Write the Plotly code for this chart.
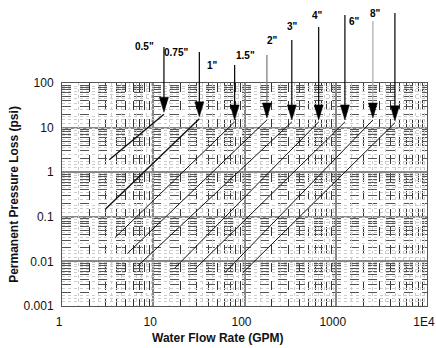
import math
import plotly.graph_objects as go

# ---- data ----
sizes = ['0.5"', '0.75"', '1"', '1.5"', '2"', '3"', '4"', '6"', '8"']
flow_start = [3.3, 3.0, 3.8, 5.2, 6.8, 17, 29, 61, 96]          # GPM
flow_end = [13.1, 32, 78, 176, 330, 650, 1260, 2550, 4450]       # GPM
loss_start = [1.9, 0.15, 0.034, 0.015, 0.008, 0.0069, 0.0069, 0.0056, 0.0056]  # psi
loss_end = [20, 15.7, 13.4, 14.8, 13.4, 13.4, 13.4, 14.8, 12.8]  # psi

x_ticks = [1, 10, 100, 1000, 10000]
x_tick_text = ['1', '10', '100', '1000', '1E4']
y_ticks = [0.001, 0.01, 0.1, 1, 10, 100]
y_tick_text = ['0.001', '0.01', '0.1', '1', '10', '100']

# ---- label styling (pixels) ----
label_rise = [36, 31, 18, 28, 43, 56, 68, 62, 70]     # height of leader above plot top
leader_len = [7, 8, 14, 9, 11, 18, 19, 10, 11]
leader_color = ['black', 'black', 'black', '#777', 'black', 'black', 'black', '#aaa', 'black']
line_width = [1.4, 1.4, 1, 1, 1, 1, 1, 1, 1]

W, H = 436, 348
ML, MR, MT, MB = 62, 9, 83, 42
PH = H - MT - MB

fig = go.Figure()
for i, s in enumerate(sizes):
    fig.add_trace(go.Scatter(
        x=[flow_start[i], flow_end[i]], y=[loss_start[i], loss_end[i]],
        mode='lines', line=dict(color='#111', width=line_width[i]),
        name=s, showlegend=False, hoverinfo='skip'))

# invisible trace for the overlay grid axes
fig.add_trace(go.Scatter(x=[1], y=[1], xaxis='x2', yaxis='y2', mode='markers',
                         marker=dict(opacity=0), showlegend=False, hoverinfo='skip'))

half_steps = []
for d in range(0, 4):
    for k in [1.5, 2.5, 3.5, 4.5, 5.5, 6.5, 7.5, 8.5, 9.5]:
        half_steps.append(k * 10 ** d)
half_steps_y = []
for d in range(-3, 2):
    for k in [1.25, 1.5, 1.75, 2.5, 3.5, 4.5, 5.5, 6.5, 7.5, 8.5, 9.5]:
        half_steps_y.append(k * 10 ** d)

shapes = []
annotations = []
for i, s in enumerate(sizes):
    corner = 1 + label_rise[i] / PH
    col = leader_color[i]
    # vertical leader above the plot
    shapes.append(dict(type='line', xref='x', yref='paper', xsizemode='pixel',
                       xanchor=flow_end[i], x0=0, x1=0, y0=corner, y1=1,
                       line=dict(color=col, width=1.2)))
    # horizontal leader
    shapes.append(dict(type='line', xref='x', yref='paper', xsizemode='pixel',
                       xanchor=flow_end[i], x0=-leader_len[i], x1=0, y0=corner, y1=corner,
                       line=dict(color=col, width=1.2)))
    # vertical leader inside the plot down to arrowhead
    shapes.append(dict(type='line', xref='x', yref='y', xsizemode='pixel', ysizemode='pixel',
                       xanchor=flow_end[i], yanchor=loss_end[i], x0=0, x1=0, y0=12, y1=60,
                       line=dict(color=col, width=1.2)))
    # arrowhead
    shapes.append(dict(type='path', xref='x', yref='y', xsizemode='pixel', ysizemode='pixel',
                       xanchor=flow_end[i], yanchor=loss_end[i],
                       path='M-4.5,17 L4.5,17 L0,2 Z',
                       fillcolor='black', line=dict(color='black', width=0.5)))
    annotations.append(dict(text='<b>' + s + '</b>', xref='x', yref='paper',
                            x=math.log10(flow_end[i]), y=corner, xanchor='right',
                            yanchor='middle', xshift=-(leader_len[i] + 1), showarrow=False,
                            font=dict(family='Liberation Sans, Arial', size=10, color='black')))

annotations.append(dict(text='<b>Water Flow Rate (GPM)</b>', xref='paper', yref='paper',
                        x=(218 - ML) / (W - ML - MR), y=-(338 - (H - MB)) / PH,
                        xanchor='center', yanchor='middle', showarrow=False,
                        font=dict(family='Liberation Sans, Arial', size=12, color='#111')))

fig.update_layout(
    width=W, height=H,
    margin=dict(l=ML, r=MR, t=MT, b=MB),
    paper_bgcolor='white', plot_bgcolor='white',
    font=dict(family='Liberation Sans, Arial', size=12, color='#111'),
    shapes=shapes, annotations=annotations,
    xaxis=dict(type='log', range=[0, 4], tickvals=x_ticks, ticktext=x_tick_text,
               ticks='outside', ticklen=5, tickcolor='rgba(0,0,0,0)',
               ticklabeloverflow='allow', ticklabelshift=-3,
               showgrid=True, gridcolor='#888', gridwidth=1.5,
               minor=dict(dtick='D1', showgrid=True, gridcolor='#333', gridwidth=0.8,
                          griddash='dash', ticks=''),
               showline=True, linecolor='#555', linewidth=1, mirror=True,
               zeroline=False, automargin=False, fixedrange=True),
    yaxis=dict(type='log', range=[-3, 2], tickvals=y_ticks, ticktext=y_tick_text,
               ticks='outside', ticklen=5, tickcolor='rgba(0,0,0,0)',
               ticklabeloverflow='allow',
               showgrid=True, gridcolor='#888', gridwidth=2,
               minor=dict(dtick='D1', showgrid=True, gridcolor='#555', gridwidth=0.7,
                          griddash='dash', ticks=''),
               showline=True, linecolor='#555', linewidth=1, mirror=True,
               title=dict(text='<b>Permanent Pressure Loss (psi)</b>', standoff=2,
                          font=dict(size=12)),
               zeroline=False, automargin=False, fixedrange=True),
    xaxis2=dict(type='log', range=[0, 4], overlaying='x', tickvals=half_steps,
                showticklabels=False, showgrid=True, gridcolor='#ccc', gridwidth=0.6,
                griddash='dot', showline=False, zeroline=False, ticks=''),
    yaxis2=dict(type='log', range=[-3, 2], overlaying='y', tickvals=half_steps_y,
                showticklabels=False, showgrid=True, gridcolor='#ccc', gridwidth=0.6,
                griddash='dot', showline=False, zeroline=False, ticks=''),
)

fig.write_html('out.html', config={'displayModeBar': False},
               post_script="document.body.style.margin='0px';")
